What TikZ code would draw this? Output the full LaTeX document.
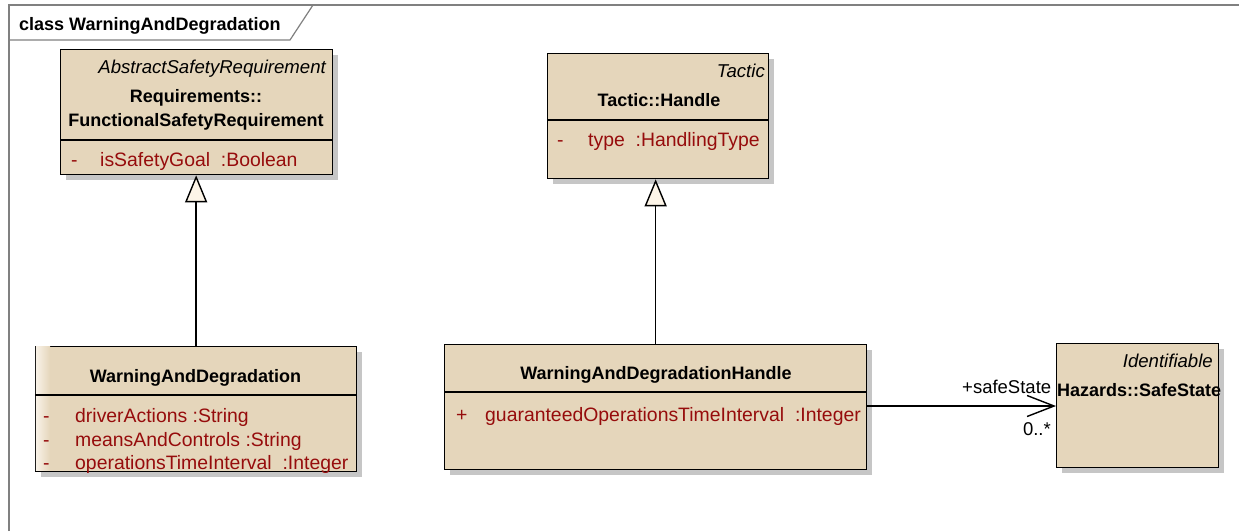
\documentclass[tikz,border=0pt]{standalone}
\usepackage{fontspec}
\setmainfont{Liberation Sans}
\usetikzlibrary{arrows.meta}
\definecolor{clsfill}{RGB}{229,214,187}
\definecolor{clslight}{RGB}{249,242,232}
\definecolor{attrc}{RGB}{150,12,12}
\definecolor{shadowc}{RGB}{198,198,198}
\definecolor{framec}{RGB}{128,128,128}
\definecolor{trifill}{RGB}{253,245,232}
\tikzset{
  cls/.style={draw=black, fill=clsfill, line width=1.3pt, inner sep=0pt, anchor=north west},
  bname/.style={font=\fontsize{18}{20}\selectfont\bfseries, inner sep=0pt},
  stereo/.style={font=\fontsize{18.6}{20}\selectfont\itshape, inner sep=0pt, anchor=base east},
  attrtxt/.style={font=\fontsize{19.4}{21}\selectfont, text=attrc, inner sep=0pt, anchor=base west},
  roletxt/.style={font=\fontsize{18.5}{20}\selectfont, inner sep=0pt},
  divider/.style={line width=1.3pt},
  gen/.style={line width=1.4pt, -{Triangle[length=27pt,width=22pt,fill=trifill]}},
  assoc/.style={line width=1.4pt, -{Straight Barb[length=27pt,width=21pt]}},
}
\begin{document}
\begin{tikzpicture}[x=1pt,y=-1pt]
\useasboundingbox (0,0) rectangle (1239,531);
\fill[white] (0,0) rectangle (1239,531);
% frame
\draw[framec, line width=1.5pt] (9,531) -- (9,5) -- (1239,5);
\draw[framec, line width=1.2pt] (9,40) -- (290,40) -- (313,5);
\node[bname, anchor=base west] (title) at (19,30) {class WarningAndDegradation};

% Box 1
\fill[shadowc] (66,55) rectangle (338,180);
\node[cls, minimum width=272pt, minimum height=125pt] (fsr) at (60,49) {};
\draw[divider] (fsr.west |- 0,140) -- (fsr.east |- 0,140);
\node[stereo] (fsrst) at (326,73) {AbstractSafetyRequirement};
\node[bname, anchor=base] (fsrn1) at (196,102) {Requirements::};
\node[bname, anchor=base] (fsrn2) at (196,126) {FunctionalSafetyRequirement};
\node[attrtxt] (fsrv) at (71,166) {-};
\node[attrtxt] (fsra) at (100,166) {isSafetyGoal\ \ :Boolean};

% Box 2
\fill[shadowc] (41,352) rectangle (362,477);
\node[cls, minimum width=321pt, minimum height=125pt] (wad) at (35,346) {};
\shade[left color=clslight, right color=clsfill] (35.8,346.8) rectangle (50,470.2);
\draw[divider] (wad.west |- 0,395) -- (wad.east |- 0,395);
\node[bname, anchor=base] (wadn) at (195.5,382) {WarningAndDegradation};
\node[attrtxt] (wadv1) at (43,422) {-};
\node[attrtxt] (wada1) at (75,422) {driverActions\ :String};
\node[attrtxt] (wadv2) at (43,446) {-};
\node[attrtxt] (wada2) at (75,446) {meansAndControls\ :String};
\node[attrtxt] (wadv3) at (43,469) {-};
\node[attrtxt] (wada3) at (75,469) {operationsTimeInterval\ \ :Integer};

% Box 3
\fill[shadowc] (553,59) rectangle (774,184);
\node[cls, minimum width=221pt, minimum height=125pt] (th) at (547,53) {};
\draw[divider] (th.west |- 0,120) -- (th.east |- 0,120);
\node[stereo] (thst) at (765,77) {Tactic};
\node[bname, anchor=base] (thn) at (659,106) {Tactic::Handle};
\node[attrtxt] (thv) at (557,146) {-};
\node[attrtxt] (tha) at (588,146) {type\ \ :HandlingType};

% Box 4
\fill[shadowc] (450,350) rectangle (872,475);
\node[cls, minimum width=422pt, minimum height=125pt] (wdh) at (444,344) {};
\draw[divider] (wdh.west |- 0,392) -- (wdh.east |- 0,392);
\node[bname, anchor=base] (wdhn) at (656,379) {WarningAndDegradationHandle};
\node[attrtxt] (wdhv) at (456,421) {+};
\node[attrtxt] (wdha) at (485,421) {guaranteedOperationsTimeInterval\ \ :Integer};

% Box 5
\fill[shadowc] (1062,349) rectangle (1224,473);
\node[cls, minimum width=162pt, minimum height=124pt] (ss) at (1056,343) {};
\node[stereo] (ssst) at (1213,367) {Identifiable};
\node[bname, anchor=base west] (ssn) at (1057,396) {Hazards::SafeState};

% connectors
\draw[gen] (wad.north) -- (wad.north |- fsr.south);
\draw[gen] (wdh.north) -- (wdh.north |- th.south);
\draw[assoc] (wdh.east |- 0,406) -- (ss.west |- 0,406);
\node[roletxt, anchor=base west] (role) at (962,393) {+safeState};
\node[roletxt, anchor=base east] (mult) at (1051,435) {0..*};
\end{tikzpicture}
\end{document}
